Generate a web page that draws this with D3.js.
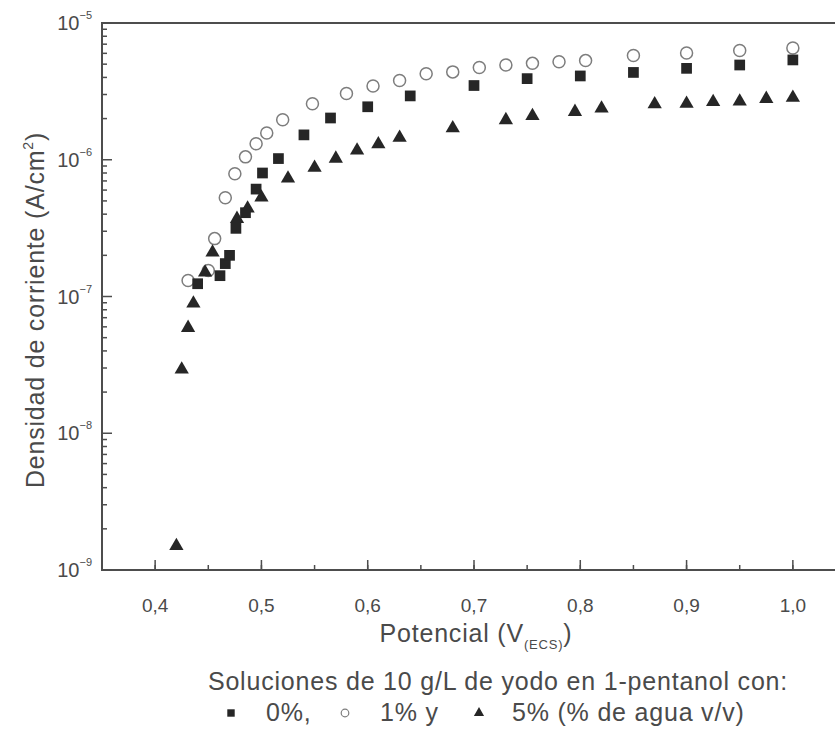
<!DOCTYPE html>
<html>
<head>
<meta charset="utf-8">
<script src="https://cdn.jsdelivr.net/npm/d3@7"></script>
<style>
  html, body { margin: 0; padding: 0; background: #fff; }
  svg { display: block; }
  text { font-family: "Liberation Sans", Arial, sans-serif; fill: #4a4a4a; }
</style>
</head>
<body>
<svg id="chart" width="835" height="729"></svg>
<script>
// Current density vs. potential, 10 g/L iodine in 1-pentanol, three water contents
const potential0 = [0.440, 0.461, 0.466, 0.470, 0.476, 0.485, 0.495, 0.501, 0.516, 0.540,
                    0.565, 0.600, 0.640, 0.700, 0.750, 0.800, 0.850, 0.900, 0.950, 1.000];
const density0   = [1.24e-7, 1.42e-7, 1.74e-7, 2.0e-7, 3.15e-7, 4.1e-7, 6.1e-7, 8.0e-7, 1.02e-6, 1.52e-6,
                    2.02e-6, 2.44e-6, 2.93e-6, 3.49e-6, 3.92e-6, 4.1e-6, 4.35e-6, 4.66e-6, 4.93e-6, 5.37e-6];

const potential1 = [0.431, 0.450, 0.456, 0.466, 0.475, 0.485, 0.495, 0.505, 0.520, 0.548,
                    0.580, 0.605, 0.630, 0.655, 0.680, 0.705, 0.730, 0.755, 0.780, 0.805,
                    0.850, 0.900, 0.950, 1.000];
const density1   = [1.31e-7, 1.55e-7, 2.65e-7, 5.28e-7, 7.9e-7, 1.05e-6, 1.31e-6, 1.57e-6, 1.96e-6, 2.57e-6,
                    3.05e-6, 3.46e-6, 3.8e-6, 4.25e-6, 4.39e-6, 4.73e-6, 4.93e-6, 5.07e-6, 5.21e-6, 5.31e-6,
                    5.78e-6, 6.03e-6, 6.3e-6, 6.57e-6];

const potential5 = [0.420, 0.425, 0.431, 0.436, 0.447, 0.454, 0.477, 0.487, 0.500, 0.525,
                    0.550, 0.570, 0.590, 0.610, 0.630, 0.680, 0.730, 0.755, 0.795, 0.820,
                    0.870, 0.900, 0.925, 0.950, 0.975, 1.000];
const density5   = [1.5e-9, 2.93e-8, 5.9e-8, 8.9e-8, 1.5e-7, 2.1e-7, 3.7e-7, 4.4e-7, 5.3e-7, 7.3e-7,
                    8.75e-7, 1.02e-6, 1.17e-6, 1.3e-6, 1.45e-6, 1.7e-6, 1.95e-6, 2.09e-6, 2.24e-6, 2.37e-6,
                    2.55e-6, 2.57e-6, 2.65e-6, 2.67e-6, 2.79e-6, 2.84e-6];

const xTickValues = [0.4, 0.5, 0.6, 0.7, 0.8, 0.9, 1.0];
const xTickLabels = ["0,4", "0,5", "0,6", "0,7", "0,8", "0,9", "1,0"];
const yExponents  = [-5, -6, -7, -8, -9];

const xTitle = "Potencial (V";
const xTitleSub = "(ECS)";
const yTitle = "Densidad de corriente (A/cm";
const legendTitle = "Soluciones de 10 g/L de yodo en 1-pentanol con:";
const legendLabels = ["0%,", "1% y", "5% (% de agua v/v)"];

const svg = d3.select("#chart");
const plotLeft = 102, plotTop = 23, plotRight = 846, plotBottom = 570;
const axisColor = "#4d4d4d";
const markColor = "#262626";
const titleSize = 25, titleSpacing = 0.8;

const x = d3.scaleLinear().domain([0.35, 1.05]).range([plotLeft, plotRight]);
const y = d3.scaleLog().domain([1e-9, 1e-5]).range([plotBottom, plotTop]);

// frame (right side runs past the visible area)
svg.append("rect")
  .attr("x", plotLeft).attr("y", plotTop)
  .attr("width", plotRight - plotLeft).attr("height", plotBottom - plotTop)
  .attr("fill", "none").attr("stroke", axisColor).attr("stroke-width", 2);

// x axis: inward ticks, majors every 0.1, minors every 0.05
const xMinor = d3.range(0.35, 1.051, 0.05).map(v => +v.toFixed(2));
const xAxisG = svg.append("g").attr("transform", `translate(0,${plotBottom})`);
xAxisG.selectAll("line.minor").data(xMinor).join("line")
  .attr("x1", d => x(d)).attr("x2", d => x(d))
  .attr("y1", 0).attr("y2", -5)
  .attr("stroke", axisColor).attr("stroke-width", 1.5);
xAxisG.selectAll("line.major").data(xTickValues).join("line")
  .attr("x1", d => x(d)).attr("x2", d => x(d))
  .attr("y1", 0).attr("y2", -10)
  .attr("stroke", axisColor).attr("stroke-width", 1.5);
xAxisG.selectAll("text").data(xTickValues).join("text")
  .attr("x", d => x(d)).attr("y", 42)
  .attr("text-anchor", "middle")
  .attr("font-size", 19)
  .text((d, i) => xTickLabels[i]);

// y axis: log decades with minor ticks 2..9
const yAxisG = svg.append("g");
const yMinor = [];
for (let e = -9; e < -5; e++) for (let m = 2; m <= 9; m++) yMinor.push(m * Math.pow(10, e));
yAxisG.selectAll("line.minor").data(yMinor).join("line")
  .attr("x1", plotLeft).attr("x2", plotLeft + 5)
  .attr("y1", d => y(d)).attr("y2", d => y(d))
  .attr("stroke", axisColor).attr("stroke-width", 1.5);
yAxisG.selectAll("line.major").data(yExponents).join("line")
  .attr("x1", plotLeft).attr("x2", plotLeft + 10)
  .attr("y1", d => y(Math.pow(10, d))).attr("y2", d => y(Math.pow(10, d)))
  .attr("stroke", axisColor).attr("stroke-width", 1.5);
const yLab = yAxisG.selectAll("text").data(yExponents).join("text")
  .attr("x", 92).attr("y", d => y(Math.pow(10, d)) + 7)
  .attr("text-anchor", "end")
  .attr("font-size", 20);
yLab.append("tspan").text("10");
yLab.append("tspan").attr("font-size", 11).attr("dy", -11).text(d => String(d).replace("-", "\u2212"));

// axis titles
const xt = svg.append("text")
  .attr("x", 476).attr("y", 642)
  .attr("text-anchor", "middle")
  .attr("font-size", titleSize)
  .attr("letter-spacing", titleSpacing);
xt.append("tspan").text(xTitle);
xt.append("tspan").attr("font-size", 13).attr("dy", 7).text(xTitleSub);
xt.append("tspan").attr("dy", -7).text(")");

const yt = svg.append("text")
  .attr("transform", "translate(44,310) rotate(-90)")
  .attr("text-anchor", "middle")
  .attr("font-size", titleSize)
  .attr("letter-spacing", titleSpacing);
yt.append("tspan").text(yTitle);
yt.append("tspan").attr("font-size", 14).attr("dy", -11).text("2");
yt.append("tspan").attr("dy", 11).text(")");

// marker shapes
const sq = d3.symbol().type(d3.symbolSquare).size(115);
const tri = d3.symbol().type(d3.symbolTriangle).size(88);

const plot = svg.append("g");
plot.selectAll("circle.s1").data(potential1).join("circle")
  .attr("cx", d => x(d)).attr("cy", (d, i) => y(density1[i]))
  .attr("r", 6)
  .attr("fill", "#fff").attr("stroke", "#7d7d7d").attr("stroke-width", 1.5);
plot.selectAll("path.s0").data(potential0).join("path")
  .attr("d", sq)
  .attr("transform", (d, i) => `translate(${x(d)},${y(density0[i])})`)
  .attr("fill", markColor);
plot.selectAll("path.s5").data(potential5).join("path")
  .attr("d", tri)
  .attr("transform", (d, i) => `translate(${x(d)},${y(density5[i])})`)
  .attr("fill", markColor);

// legend
svg.append("text")
  .attr("x", 498).attr("y", 690)
  .attr("text-anchor", "middle")
  .attr("font-size", titleSize)
  .attr("letter-spacing", titleSpacing)
  .text(legendTitle);

const legY = 721;
const leg = svg.append("g")
  .attr("font-size", titleSize);
leg.append("path").attr("d", d3.symbol().type(d3.symbolSquare).size(55)())
  .attr("transform", `translate(231,${legY - 8})`).attr("fill", markColor);
leg.append("text").attr("x", 266).attr("y", legY).attr("letter-spacing", titleSpacing).text(legendLabels[0]);
leg.append("circle").attr("cx", 345).attr("cy", legY - 8).attr("r", 3.8)
  .attr("fill", "#fff").attr("stroke", "#7d7d7d").attr("stroke-width", 1.2);
leg.append("text").attr("x", 380).attr("y", legY).attr("letter-spacing", titleSpacing).text(legendLabels[1]);
leg.append("path").attr("d", d3.symbol().type(d3.symbolTriangle).size(45)())
  .attr("transform", `translate(479,${legY - 8})`).attr("fill", markColor);
leg.append("text").attr("x", 512).attr("y", legY).attr("letter-spacing", titleSpacing).text(legendLabels[2]);
</script>
</body>
</html>
